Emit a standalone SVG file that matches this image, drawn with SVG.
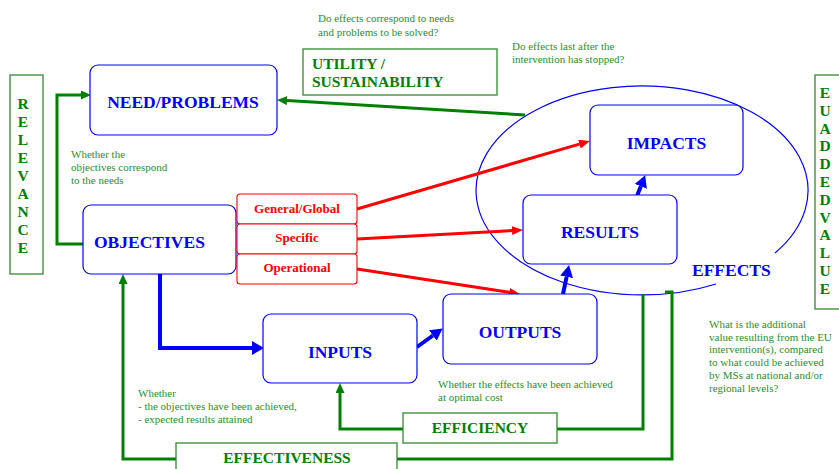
<svg xmlns="http://www.w3.org/2000/svg" width="839" height="469" viewBox="0 0 839 469">
<style>
text{font-family:"Liberation Serif","Times New Roman",serif}
.bt{fill:#0000ff;font-weight:bold;font-size:17.5px}
.gt{fill:#008000;font-weight:bold;font-size:15.5px}
.rt{fill:#ff0000;font-weight:bold;font-size:13px;text-anchor:middle}
.st{fill:#2a8f2a;font-size:11px}
.vl{fill:#008000;font-weight:bold;font-size:15.5px;text-anchor:middle}
.bb{fill:#fff;stroke:#0000ff;stroke-width:1.2}
.gb{fill:#fff;stroke:#2e8b2e;stroke-width:1.3}
.rb{fill:#fff;stroke:#ff0000;stroke-width:1.1}
.gl{fill:none;stroke:#008000;stroke-width:3}
.rl{fill:none;stroke:#ff0000;stroke-width:3}
.bl{fill:none;stroke:#0000ff;stroke-width:4}
.m{text-anchor:middle}
</style>
<defs>
<marker id="ag" markerUnits="userSpaceOnUse" markerWidth="10" markerHeight="10" refX="0" refY="4.5" orient="auto"><path d="M0,0 L10,4.5 L0,9 z" fill="#008000"/></marker>
<marker id="ar" markerUnits="userSpaceOnUse" markerWidth="11" markerHeight="10" refX="0" refY="4.5" orient="auto"><path d="M0,0 L11,4.5 L0,9 z" fill="#ff0000"/></marker>
<marker id="ab" markerUnits="userSpaceOnUse" markerWidth="12" markerHeight="14" refX="0" refY="6.5" orient="auto"><path d="M0,0 L12,6.5 L0,13 z" fill="#0000ff"/></marker>
<marker id="abl" markerUnits="userSpaceOnUse" markerWidth="12" markerHeight="15" refX="0" refY="7" orient="auto"><path d="M0,0 L12,7 L0,14 z" fill="#0000ff"/></marker>
</defs>

<g id="effects-ellipse">
<path d="M716,284 A166,104.5 0 1 1 775,253" fill="none" stroke="#0000ff" stroke-width="1.2"/>
<text class="bt" x="692" y="276">EFFECTS</text>
</g>

<g id="connectors">
<path class="gl" d="M83,244 H57 V95 H81" marker-end="url(#ag)"/>
<path class="gl" d="M525,115 L287,100.6" marker-end="url(#ag)"/>
<path class="gl" d="M665,292 H672 V459 H397"/>
<path class="gl" d="M176,459 H123 V284" marker-end="url(#ag)"/>
<path class="gl" d="M643,294 V429 H557"/>
<path class="gl" d="M403,429 H340 V393" marker-end="url(#ag)"/>
<path class="rl" d="M357,209 L579.4,144.1" marker-end="url(#ar)"/>
<path class="rl" d="M357,239 L512,230.6" marker-end="url(#ar)"/>
<path class="rl" d="M357,269 L509.1,292.3" marker-end="url(#ar)"/>
<path class="bl" d="M160,274 V348 H252" marker-end="url(#abl)"/>
<path class="bl" d="M417,347 L432.9,335.5" marker-end="url(#ab)"/>
<path class="bl" d="M563,294 L566.6,276.8" marker-end="url(#ab)"/>
<path class="bl" d="M637,196 L640.8,186.3" marker-end="url(#ab)"/>
</g>

<g id="relevance">
<rect class="gb" x="10" y="75" width="33" height="199"/>
<text class="vl" x="23" y="109">R</text>
<text class="vl" x="23" y="127">E</text>
<text class="vl" x="23" y="145">L</text>
<text class="vl" x="23" y="163">E</text>
<text class="vl" x="23" y="181">V</text>
<text class="vl" x="23" y="199">A</text>
<text class="vl" x="23" y="217">N</text>
<text class="vl" x="23" y="235">C</text>
<text class="vl" x="23" y="253">E</text>
</g>

<g id="eu-added-value">
<rect class="gb" x="815" y="75" width="40" height="234"/>
<text class="vl" x="825" y="98">E</text>
<text class="vl" x="825" y="115.8">U</text>
<text class="vl" x="825" y="133.6">A</text>
<text class="vl" x="825" y="151.4">D</text>
<text class="vl" x="825" y="169.2">D</text>
<text class="vl" x="825" y="187">E</text>
<text class="vl" x="825" y="204.8">D</text>
<text class="vl" x="825" y="222.6">V</text>
<text class="vl" x="825" y="240.4">A</text>
<text class="vl" x="825" y="258.2">L</text>
<text class="vl" x="825" y="276">U</text>
<text class="vl" x="825" y="294">E</text>
</g>

<g id="need-problems">
<rect class="bb" x="90" y="65" width="187" height="70" rx="8"/>
<text class="bt m" x="183" y="108">NEED/PROBLEMS</text>
</g>

<g id="utility">
<rect class="gb" x="303" y="49" width="194" height="46"/>
<text class="gt" x="312" y="69">UTILITY /</text>
<text class="gt" x="312" y="87">SUSTAINABILITY</text>
</g>

<g id="impacts">
<rect class="bb" x="590" y="105" width="153" height="70" rx="8"/>
<text class="bt m" x="666.5" y="149">IMPACTS</text>
</g>

<g id="results">
<rect class="bb" x="523" y="195" width="154" height="69" rx="8"/>
<text class="bt m" x="600" y="238">RESULTS</text>
</g>

<g id="objectives">
<rect class="bb" x="83" y="205" width="153" height="69" rx="8"/>
<text class="bt" x="94" y="248">OBJECTIVES</text>
</g>

<g id="general-global">
<rect class="rb" x="237" y="194" width="120" height="30" rx="3"/>
<text class="rt" x="297" y="213">General/Global</text>
</g>
<g id="specific">
<rect class="rb" x="237" y="224" width="120" height="30" rx="3"/>
<text class="rt" x="297" y="242">Specific</text>
</g>
<g id="operational">
<rect class="rb" x="237" y="254" width="120" height="30" rx="3"/>
<text class="rt" x="297" y="272">Operational</text>
</g>

<g id="outputs">
<rect class="bb" x="443" y="294" width="154" height="70" rx="8"/>
<text class="bt m" x="520" y="338">OUTPUTS</text>
</g>

<g id="inputs">
<rect class="bb" x="263" y="314" width="154" height="69" rx="8"/>
<text class="bt m" x="340" y="358">INPUTS</text>
</g>

<g id="efficiency">
<rect class="gb" x="403" y="413" width="154" height="30"/>
<text class="gt m" x="480" y="433">EFFICIENCY</text>
</g>

<g id="effectiveness">
<rect class="gb" x="176" y="443" width="221" height="40"/>
<text class="gt m" x="287" y="463">EFFECTIVENESS</text>
</g>

<g id="notes">
<text class="st" x="318" y="22">Do effects correspond to needs</text>
<text class="st" x="318" y="36">and problems to be solved?</text>
<text class="st" x="512" y="50">Do effects last after the</text>
<text class="st" x="512" y="63">intervention has stopped?</text>
<text class="st" x="71" y="158">Whether the</text>
<text class="st" x="71" y="171">objectives correspond</text>
<text class="st" x="71" y="184">to the needs</text>
<text class="st" x="138" y="397">Whether</text>
<text class="st" x="138" y="410">- the objectives have been achieved,</text>
<text class="st" x="138" y="423">- expected results attained</text>
<text class="st" x="438" y="388">Whether the effects have been achieved</text>
<text class="st" x="438" y="401">at optimal cost</text>
<text class="st" x="709" y="328">What is the additional</text>
<text class="st" x="709" y="341">value resulting from the EU</text>
<text class="st" x="709" y="353">intervention(s), compared</text>
<text class="st" x="709" y="366">to what could be achieved</text>
<text class="st" x="709" y="379">by MSs at national and/or</text>
<text class="st" x="709" y="392">regional levels?</text>
</g>
</svg>
